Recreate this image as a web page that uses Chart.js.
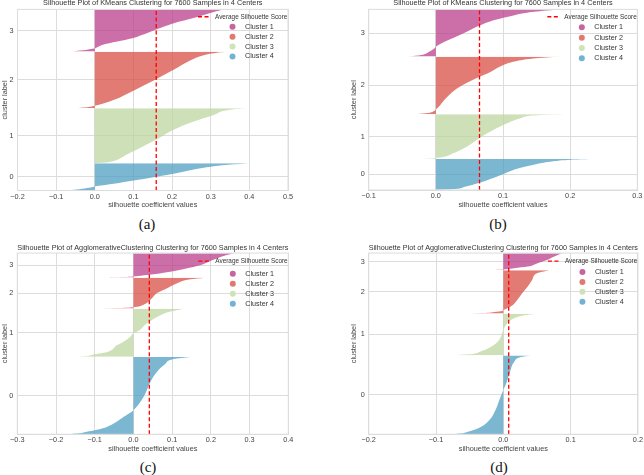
<!DOCTYPE html>
<html>
<head>
<meta charset="utf-8">
<script src="https://cdn.jsdelivr.net/npm/chart.js@4.4.1/dist/chart.umd.min.js"></script>
<style>
  html, body { margin: 0; padding: 0; background: #fff; overflow: hidden; }
  body { width: 644px; height: 475px; position: relative; }
  canvas { position: absolute; }
  .cap { position: absolute; font-family: "Liberation Serif", "Times New Roman", serif; font-size: 15px; color: #111; transform: translate(-50%, -50%); }
</style>
</head>
<body>
<canvas id="chartA" width="300" height="212" style="left:0;top:-3px"></canvas>
<canvas id="chartB" width="314" height="212" style="left:330px;top:-3px"></canvas>
<canvas id="chartC" width="300" height="213" style="left:0;top:240px"></canvas>
<canvas id="chartD" width="314" height="213" style="left:330px;top:240px"></canvas>
<div class="cap" style="left:147px;top:224px">(a)</div>
<div class="cap" style="left:498px;top:224px">(b)</div>
<div class="cap" style="left:148px;top:467px">(c)</div>
<div class="cap" style="left:499px;top:467px">(d)</div>
<script>
// clusters listed bottom to top (tick label 0..3)
const clusterNames = ['Cluster 4', 'Cluster 3', 'Cluster 2', 'Cluster 1'];
const tickLabels = ['0', '1', '2', '3'];
const kmeansTitle = 'Silhouette Plot of KMeans Clustering for 7600 Samples in 4 Centers';
const aggloTitle = 'Silhouette Plot of AgglomerativeClustering Clustering for 7600 Samples in 4 Centers';
const nSamples = 7600;

// (a) KMeans
const aSizes = [1140, 2310, 2380, 1770];
const aAvg = 0.159;
const aPos = [
  [0, 3.7, 9, 14, 15.5, 24, 36, 50, 61, 83, 95, 100],
  [0, 1.5, 3.6, 15.6, 31, 43, 61, 76, 88, 97.5, 100],
  [0, 1.4, 4, 7.6, 14.7, 31, 50, 68, 85, 94, 98.6, 100],
  [0, 4, 7.5, 9.5, 15.8, 23.7, 31.5, 39.4, 47.2, 59, 70.8, 82.6, 94.4, 100]
];
const aVal = [
  [-0.068, -0.04, -0.015, 0.0, 0.006, 0.049, 0.101, 0.159, 0.204, 0.282, 0.351, 0.403],
  [0.005, 0.035, 0.049, 0.083, 0.127, 0.159, 0.204, 0.256, 0.308, 0.351, 0.394],
  [-0.046, -0.02, 0.0, 0.02, 0.05, 0.10, 0.155, 0.204, 0.248, 0.282, 0.32, 0.34],
  [-0.059, -0.02, 0.0, 0.005, 0.019, 0.058, 0.097, 0.122, 0.144, 0.178, 0.217, 0.265, 0.308, 0.334]
];

// (b) KMeans
const bSizes = [1300, 1890, 2420, 1990];
const bAvg = 0.065;
const bPos = [
  [0, 1, 8.7, 22.6, 47.4, 68.7, 81.6, 92.6, 97.7, 100],
  [0, 1.1, 2.2, 13.3, 28, 46.7, 61.6, 76.2, 91, 98.4, 100],
  [0, 1.7, 4.4, 8, 15, 27.4, 44.8, 62.3, 73.8, 82.5, 91.3, 97.2, 99, 100],
  [0, 3.5, 10.5, 17.6, 21, 31.6, 42, 52.7, 65.4, 77.4, 84.4, 93.5, 98.5, 100]
];
const bVal = [
  [0.0, 0.02, 0.042, 0.065, 0.096, 0.121, 0.146, 0.175, 0.201, 0.232],
  [-0.018, -0.005, 0.003, 0.027, 0.047, 0.065, 0.082, 0.101, 0.126, 0.156, 0.195],
  [-0.027, -0.012, -0.004, 0.0, 0.006, 0.015, 0.032, 0.06, 0.082, 0.095, 0.115, 0.145, 0.165, 0.185],
  [-0.041, -0.022, -0.01, -0.002, 0.0, 0.013, 0.03, 0.046, 0.064, 0.086, 0.106, 0.136, 0.171, 0.19]
];

// (c) Agglomerative
const cSizes = [3250, 2030, 1300, 1020];
const cAvg = 0.041;
const cPos = [
  [0, 1, 2.1, 6.5, 13.7, 22.4, 31, 48, 68, 81, 91, 97.5, 100],
  [0, 0.4, 3.5, 10, 24, 32, 42, 49, 52, 70, 83, 94, 100],
  [0, 1.3, 3, 4.5, 12, 28, 50, 66, 82, 95, 100],
  [0, 2, 4, 10, 24, 40, 55, 72, 90, 100]
];
const cVal = [
  [-0.163, -0.14, -0.129, -0.085, -0.051, -0.025, 0.0, 0.026, 0.044, 0.061, 0.082, 0.104, 0.147],
  [-0.2, -0.15, -0.11, -0.068, -0.043, -0.025, -0.008, 0.0, 0.009, 0.035, 0.061, 0.095, 0.13],
  [-0.08, -0.04, -0.008, 0.005, 0.026, 0.044, 0.061, 0.087, 0.113, 0.147, 0.186],
  [-0.072, -0.02, 0.0, 0.035, 0.095, 0.145, 0.18, 0.205, 0.235, 0.26]
];

// (d) Agglomerative
const dSizes = [3320, 1750, 1820, 710];
const dAvg = 0.008;
const dPos = [
  [0, 1, 2, 7, 15.6, 28, 43, 56, 66, 79, 91.5, 98, 100],
  [0, 1.5, 3, 8, 16, 28, 37, 61, 77, 89, 96, 100],
  [0, 1, 2.3, 5, 8.5, 16, 32, 47, 62, 78, 93, 100],
  [0, 1.7, 4, 11.5, 21, 40, 60, 79, 100]
];
const dVal = [
  [-0.073, -0.06, -0.056, -0.038, -0.023, -0.013, -0.006, 0.0, 0.005, 0.01, 0.016, 0.026, 0.04],
  [-0.068, -0.058, -0.045, -0.035, -0.023, -0.011, -0.006, 0.0, 0.006, 0.016, 0.031, 0.048],
  [-0.047, -0.03, -0.018, -0.004, 0.001, 0.011, 0.021, 0.028, 0.036, 0.043, 0.05, 0.068],
  [-0.022, -0.005, 0.0, 0.016, 0.036, 0.05, 0.065, 0.075, 0.087]
];

// styles
const fillColors = ['rgba(80,159,194,0.75)', 'rgba(188,214,160,0.75)', 'rgba(216,79,68,0.75)', 'rgba(187,63,139,0.75)'];
const markerColors = ['#72b2d2', '#cfe3b8', '#e07a70', '#c8649f'];
const gridColor = '#dcdcdc';

Chart.defaults.font.family = '"Liberation Sans", Arial, sans-serif';
Chart.defaults.font.size = 7.3;
Chart.defaults.color = '#444';
Chart.defaults.animation = false;

// frame + legend drawn inside the plot area
const insideLegend = {
  id: 'insideLegend',
  afterDraw(chart, args, opts) {
    const {ctx, chartArea: a} = chart;
    ctx.save();
    ctx.strokeStyle = gridColor;
    ctx.lineWidth = 1;
    ctx.strokeRect(a.left, a.top, a.right - a.left, a.bottom - a.top);

    const r = a.right, t = a.top;
    ctx.strokeStyle = 'red';
    ctx.lineWidth = 1.3;
    ctx.setLineDash([4, 2.5]);
    ctx.beginPath();
    ctx.moveTo(r - 90, t + opts.avgRow);
    ctx.lineTo(r - 78, t + opts.avgRow);
    ctx.stroke();
    ctx.setLineDash([]);
    ctx.textBaseline = 'middle';
    ctx.fillStyle = '#333';
    ctx.font = '6.4px "Liberation Sans", Arial, sans-serif';
    ctx.fillText('Average Silhouette Score', r - 73, t + opts.avgRow);

    ctx.font = '7.2px "Liberation Sans", Arial, sans-serif';
    for (let i = 0; i < clusterNames.length; i++) {
      const k = clusterNames.length - 1 - i;
      const y = t + opts.firstRow + i * opts.rowGap;
      ctx.fillStyle = markerColors[k];
      ctx.beginPath();
      ctx.arc(r - 55.5, y, 3, 0, Math.PI * 2);
      ctx.fill();
      ctx.fillStyle = '#333';
      ctx.fillText(clusterNames[k], r - 43, y);
    }
    ctx.restore();
  }
};

function fmtTick(v) {
  const s = Math.abs(v).toFixed(1);
  return v < -1e-9 ? '\u2212' + s : s;
}

function buildChart(id, title, xMin, xMax, sizes, pos, val, avg, geom) {
  const yMax = nSamples + (sizes.length + 1) * 10;
  const centers = [];
  const datasets = [{
    label: 'Average Silhouette Score',
    data: [{x: avg, y: 0}, {x: avg, y: yMax}],
    borderColor: 'red',
    borderWidth: 1.3,
    borderDash: [4, 2.5],
    pointRadius: 0,
    fill: false
  }];
  let yLower = 10;
  sizes.forEach((size, i) => {
    centers.push(yLower + size / 2);
    datasets.push({
      label: clusterNames[i],
      data: pos[i].map((p, j) => ({x: val[i][j], y: yLower + p / 100 * size})),
      backgroundColor: fillColors[i],
      borderWidth: 0,
      pointRadius: 0,
      fill: 'origin',
      cubicInterpolationMode: 'monotone'
    });
    yLower += size + 10;
  });

  return new Chart(document.getElementById(id), {
    type: 'line',
    data: { datasets },
    plugins: [insideLegend],
    options: {
      responsive: false,
      indexAxis: 'y',
      layout: { padding: { left: geom.padL, right: geom.padR, top: 0, bottom: 0 } },
      plugins: {
        legend: { display: false },
        tooltip: { enabled: false },
        title: {
          display: true,
          text: title,
          fullSize: false,
          color: '#333',
          font: { size: 7.3, weight: 'normal' },
          padding: geom.titlePad
        },
        insideLegend: geom
      },
      scales: {
        x: {
          type: 'linear',
          position: 'bottom',
          min: xMin,
          max: xMax,
          ticks: { stepSize: 0.1, padding: geom.xTickPad, maxRotation: 0, callback: fmtTick },
          grid: { color: gridColor, drawTicks: false },
          border: { color: gridColor },
          title: { display: true, text: 'silhouette coefficient values', padding: 0, color: '#444' },
          afterFit(scale) { scale.height = geom.xHeight; }
        },
        y: {
          type: 'linear',
          position: 'left',
          min: 0,
          max: yMax,
          afterBuildTicks(scale) { scale.ticks = centers.map(v => ({value: v})); },
          ticks: { padding: 4, callback: (v, i) => tickLabels[i] },
          grid: { color: gridColor, drawTicks: false },
          border: { color: gridColor },
          title: { display: true, text: 'cluster label', padding: 0, color: '#444' },
          afterFit(scale) { scale.width = geom.yWidth; }
        }
      }
    }
  });
}

buildChart('chartA', kmeansTitle, -0.2, 0.5, aSizes, aPos, aVal, aAvg,
  { padL: 0.6, yWidth: 16.9, padR: 12, titlePad: {top: 1.6, bottom: 2.0}, xHeight: 18.5, xTickPad: 1.8, avgRow: 7.4, firstRow: 17.4, rowGap: 9.9 });
buildChart('chartB', kmeansTitle, -0.1, 0.3, bSizes, bPos, bVal, bAvg,
  { padL: 19.9, yWidth: 18.8, padR: 5.3, titlePad: {top: 1.9, bottom: 1.7}, xHeight: 19, xTickPad: 1.6, avgRow: 7.4, firstRow: 18, rowGap: 10.3 });
buildChart('chartC', aggloTitle, -0.3, 0.4, cSizes, cPos, cVal, cAvg,
  { padL: 0.2, yWidth: 17.1, padR: 11.7, titlePad: {top: 3.3, bottom: 1.0}, xHeight: 18.7, xTickPad: 1.0, avgRow: 8, firstRow: 20.7, rowGap: 10 });
buildChart('chartD', aggloTitle, -0.2, 0.2, dSizes, dPos, dVal, dAvg,
  { padL: 19.9, yWidth: 18.8, padR: 5.3, titlePad: {top: 3.3, bottom: 1.0}, xHeight: 18.7, xTickPad: 1.0, avgRow: 8, firstRow: 19, rowGap: 9.9 });
</script>
</body>
</html>
